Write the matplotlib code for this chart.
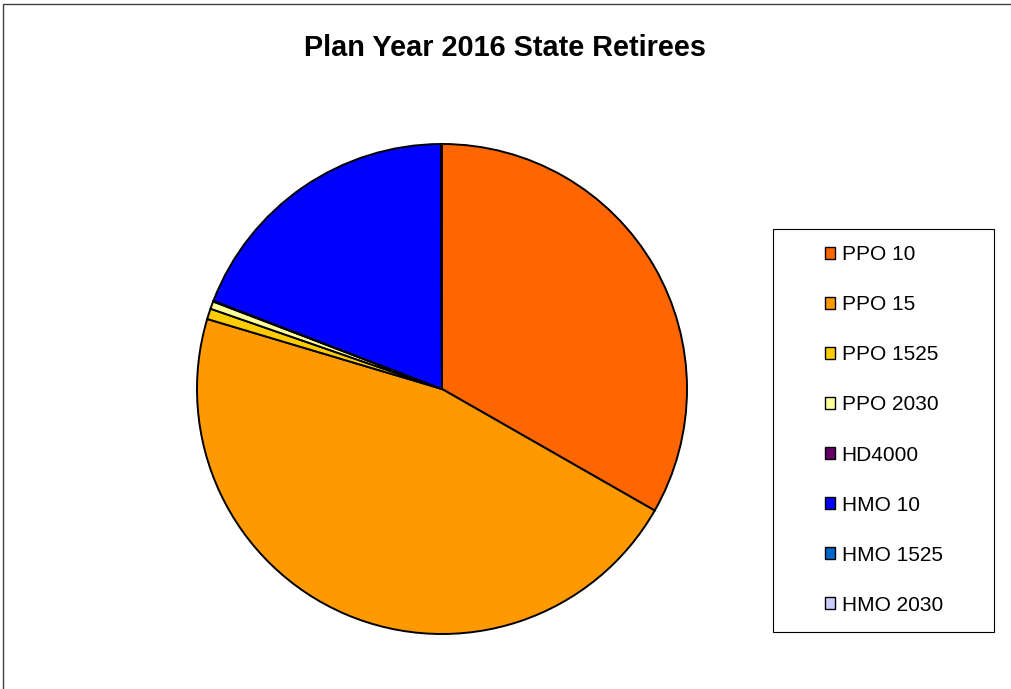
import matplotlib
matplotlib.use("Agg")
import matplotlib.pyplot as plt
from matplotlib.patches import Rectangle, Patch

plt.rcParams['font.family'] = ['Liberation Sans', 'DejaVu Sans']

labels = ["PPO 10", "PPO 15", "PPO 1525", "PPO 2030", "HD4000", "HMO 10", "HMO 1525", "HMO 2030"]
values = [33.3, 46.4, 0.7, 0.5, 0.05, 19.1, 0.03, 0.03]
colors = ["#FF6600", "#FF9900", "#FFCC00", "#FFFF99", "#660066", "#0000FF", "#0066CC", "#CCCCFF"]

W, H = 1011, 689
fig = plt.figure(figsize=(W / 100, H / 100), dpi=100)
fig.patch.set_facecolor("white")

# outer chart border (clipped at right/bottom)
fig.patches.append(Rectangle((3 / W, -0.1), 1.2, 1 - 4 / H + 0.1, transform=fig.transFigure,
                             fill=False, edgecolor="#404040", linewidth=1.0))

cx, cy, r = 442, 389, 245
ax = fig.add_axes([(cx - r) / W, (H - cy - r) / H, 2 * r / W, 2 * r / H])
wedges, _ = ax.pie(values, colors=colors, startangle=90, counterclock=False, radius=1,
                   wedgeprops=dict(edgecolor="black", linewidth=1.4))
for w in wedges:
    w.set_clip_on(False)
ax.set_xlim(-1.0, 1.0)
ax.set_ylim(-1.0, 1.0)
ax.set_aspect("equal")
ax.axis("off")

fig.text(505 / W, 1 - 48 / H, "Plan Year 2016 State Retirees", ha="center", va="center",
         fontsize=20.8, fontweight="bold")

# legend frame
fig.patches.append(Rectangle((773 / W, 1 - 632 / H), 221 / W, 403 / H, transform=fig.transFigure,
                             fill=False, edgecolor="black", linewidth=0.8))

handles = [Patch(facecolor=c, edgecolor="black", linewidth=1.0) for c in colors]
leg = fig.legend(handles, labels, loc="center left",
                 bbox_to_anchor=(825 / W, 1 - 430 / H), borderaxespad=0, borderpad=0,
                 frameon=False, fontsize=15,
                 handlelength=0.5, handleheight=0.5, handletextpad=0.3,
                 labelspacing=1.49)

fig.savefig("out.png", dpi=100)
